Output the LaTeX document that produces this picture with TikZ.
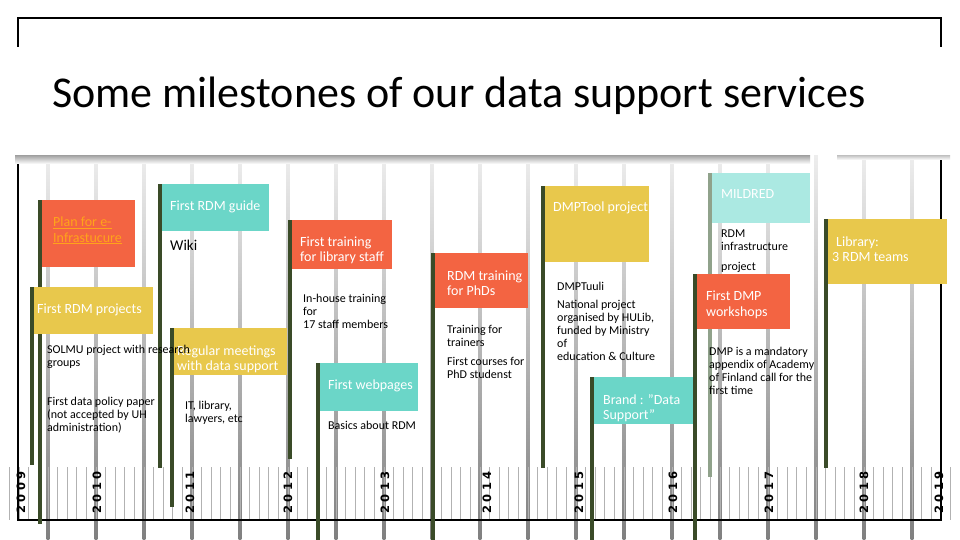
\documentclass[tikz,border=0pt]{standalone}
\usepackage{fontspec}
\setmainfont{Carlito}
\newfontfamily\yearfont{DejaVu Sans}

\definecolor{msorange}{HTML}{F36442}
\definecolor{msteal}{HTML}{6BD6C8}
\definecolor{mslteal}{HTML}{ABE9E2}
\definecolor{msgold}{HTML}{E8C84C}
\definecolor{msbar}{HTML}{3A4B28}
\definecolor{msltbar}{HTML}{90A28B}
\definecolor{mslink}{HTML}{FFA31A}

\newcommand\yrspaced[4]{#1\kern3.5pt#2\kern3.5pt#3\kern3.5pt#4}

\tikzset{
  minor tick/.style={draw=black!30, line width=1pt},
  frame/.style={draw=black, line width=2pt},
  year label/.style={rotate=90, anchor=west, inner sep=0,
    font=\yearfont\bfseries\fontsize{11.5}{13}\selectfont},
  msbox/.style={anchor=north west, inner sep=0, outer sep=0},
  boxtext/.style={anchor=west, inner sep=0, align=left, text=white,
    font=\fontsize{14}{15.5}\selectfont},
  note/.style={anchor=north west, inner sep=0, align=left,
    font=\fontsize{12}{13}\selectfont},
}

\begin{document}
\begin{tikzpicture}[x=1pt, y=-1pt]
  \fill[white] (0,0) rectangle (960,540);
  \useasboundingbox (0,0) rectangle (960,540);

  % grid and time axis
  \foreach \x in {48,96,...,912}
    \shade[top color=black!7, bottom color=black!50] (\x-1.3,155) rectangle (\x+1.3,540);
  \foreach \i in {1,...,99}
    \draw[minor tick] (\i*9.6,467) -- (\i*9.6,520);
  \draw[frame] (18,47) -- (18,18) -- (941,18) -- (941,47);
  \draw[frame] (18,155) -- (18,520) -- (941,520) -- (941,155);
  \foreach \x/\yr in {21/2009, 97/2010, 190/2011, 288/2012, 385/2013,
                      487/2014, 579/2015, 673/2016, 769/2017, 864/2018, 939/2019}
    \node[year label] (yr\yr) at (\x,514) {\expandafter\yrspaced\yr};

  % title band
  \shade[top color=black!38, bottom color=white] (15,155) rectangle (810,164);
  \shade[top color=black!25, bottom color=white] (837,155) rectangle (950,160);
  \fill[white] (0,47) rectangle (960,155);
  \node[anchor=base west, inner sep=0, font=\fontsize{44}{52}\selectfont] (title)
    at (52,108) {Some milestones of our data support services};

  % milestone boxes with their bars
  \foreach \n/\x/\y/\w/\h/\c/\b/\e in {
      plan/42/200/93/67/msorange/msbar/524,
      rdmproj/34/287/119/47/msgold/msbar/465,
      guide/162/184/107/47/msteal/msbar/468,
      meet/174/328/113/47/msgold/msbar/507,
      train/292/220/100/49/msorange/msbar/459,
      web/320/363/98/48/msteal/msbar/540,
      phd/435/253/93/55/msorange/msbar/540,
      tool/545/186/104/76/msgold/msbar/468,
      brand/594/377/99/47/msteal/msbar/540,
      mildred/712/173/98/50/mslteal/msltbar/477,
      dmpws/697/274/93/55/msorange/msbar/540,
      library/828/219/119/65/msgold/msbar/468
    }{
    \node[msbox, fill=\c, minimum width=\w, minimum height=\h] (\n) at (\x,\y) {};
    \coordinate (\n-end) at (\x-2,\e);
    \draw[draw=\b, line width=4pt] ([xshift=-2pt]\n.north west) -- (\n-end);
  }

  \node[boxtext, text=mslink] (plantxt) at ([shift={(11,30.5)}]plan.north west)
    {\underline{Plan for e-}\\\underline{Infrastucure}};
  \node[boxtext] (rdmprojtxt) at ([shift={(3,23)}]rdmproj.north west) {First RDM projects};
  \node[boxtext] (guidetxt) at ([shift={(8,23)}]guide.north west) {First RDM guide};
  \node[boxtext] (meettxt) at ([shift={(3,31.5)}]meet.north west) {Regular meetings\\with data support};
  \node[boxtext] (traintxt) at ([shift={(8,30.5)}]train.north west) {First training\\for library staff};
  \node[boxtext] (webtxt) at ([shift={(8,23)}]web.north west) {First webpages};
  \node[boxtext] (phdtxt) at ([shift={(12,30)}]phd.north west) {RDM training\\for PhDs};
  \node[boxtext] (tooltxt) at ([shift={(8,22)}]tool.north west) {DMPTool project};
  \node[boxtext] (brandtxt) at ([shift={(9,31)}]brand.north west) {Brand : "Data\\Support"};
  \node[boxtext] (mildredtxt) at ([shift={(9,21)}]mildred.north west) {MILDRED};
  \node[boxtext] (dmpwstxt) at ([shift={(9,31)}]dmpws.north west) {First DMP\\workshops};
  \node[boxtext] (librarytxt) at ([shift={(4,30)}]library.north west) {\hspace*{4pt}Library:\\3 RDM teams};

  % notes
  \node[note] (solmu) at (47,345) {SOLMU project with research\\groups};
  \node[note] (policy) at (47,397) {First data policy paper\\(not accepted by UH\\administration)};
  \node[note, font=\fontsize{15}{16}\selectfont] (wiki) at (170,240) {Wiki};
  \node[note] (itlib) at (185,401) {IT, library,\\lawyers, etc};
  \node[note] (inhouse) at (303,294) {In-house training\\for\\17 staff members};
  \node[note] (basics) at (328,421) {Basics about RDM};
  \node[note] (trainers) at (447,325) {Training for\\trainers};
  \node[note] (courses) at (447,357) {First courses for\\PhD studenst};
  \node[note] (tuuli) at (557,282) {DMPTuuli};
  \node[note] (national) at (557,300) {National project\\organised by HULib,\\funded by Ministry\\of\\education \& Culture};
  \node[note] (rdminfra) at (721,230) {RDM\\infrastructure};
  \node[note] (project) at (721,262) {project};
  \node[note] (mandatory) at (709,347) {DMP is a mandatory\\appendix of Academy\\of Finland call for the\\first time};
\end{tikzpicture}
\end{document}
